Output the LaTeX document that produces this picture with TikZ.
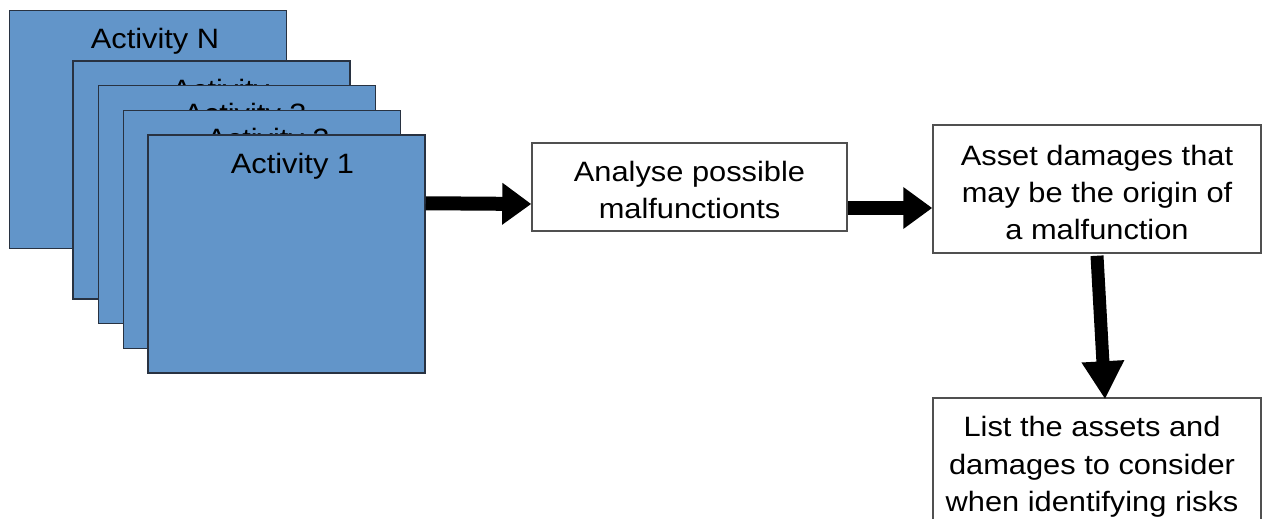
\documentclass[tikz,border=0pt]{standalone}
\usepackage{fontspec}
\setmainfont[FakeStretch=1.1]{Liberation Sans}
\usetikzlibrary{arrows.meta,calc}
\definecolor{actblue}{RGB}{98,149,201}
\definecolor{actedge}{RGB}{40,50,65}
\definecolor{boxedge}{RGB}{80,80,80}
\begin{document}
\begin{tikzpicture}[x=1pt,y=-1pt,
  actbox/.style={draw=actedge,fill=actblue,line width=1.5pt,
    minimum width=277pt,minimum height=238pt,inner sep=0pt},
  acttext/.style={font=\fontsize{28}{37}\selectfont,inner sep=0pt},
  stepbox/.style={draw=boxedge,fill=white,line width=1.5pt,inner sep=0pt},
  boxtext/.style={font=\fontsize{28}{37}\selectfont,align=center,inner sep=0pt},
  bigarrow/.style={line width=14pt,-{Triangle[length=29pt,width=40pt]}},
  downarrow/.style={line width=13pt,-{Triangle[length=38pt,width=40pt]}}
]
\path[use as bounding box] (0,0) rectangle (1264,519);
\clip (0,0) rectangle (1264,519);

% stack of activity sheets, back to front
\node[actbox] (aN) at (148,129.5) {};
\node[acttext] (tN) at ($(aN.north)+(7,32)$) {Activity N};
\node[actbox] (a4) at (211.5,180) {};
\node[acttext] (t4) at ($(a4.north)+(26,32)$) {Activity ...};
\node[actbox] (a3) at (237,204.5) {};
\node[acttext] (t3) at ($(a3.north)+(8,32)$) {Activity 3};
\node[actbox] (a2) at (262,229.5) {};
\node[acttext] (t2) at ($(a2.north)+(6,32)$) {Activity 2};
\node[actbox] (a1) at (286.5,254) {};
\node[acttext] (t1) at ($(a1.north)+(6,32)$) {Activity 1};

% process boxes
\node[stepbox,minimum width=315pt,minimum height=88pt] (an) at (689.5,187) {};
\node[boxtext] (antext) at ($(an.center)+(0,3)$) {Analyse possible\\malfunctionts};
\node[stepbox,minimum width=328pt,minimum height=128pt] (as) at (1097,189) {};
\node[boxtext] (astext) at ($(as.center)+(0,3)$)
  {Asset damages that\\may be the origin of\\a malfunction};
\node[stepbox,minimum width=328pt,minimum height=150pt] (ls) at (1097,473) {};
\node[boxtext,anchor=north,font=\fontsize{28}{37.5}\selectfont] (lstext) at (1092,416.5)
  {List the assets and\\damages to consider\\when identifying risks};

% connectors
\draw[bigarrow] ($(a1.north east)+(0,69)$) -- ($(an.west)+(0,17)$);
\draw[bigarrow] ($(an.east)+(0,21)$) -- ($(as.west)+(0,19)$);
\draw[downarrow] ($(as.south)+(0,2)$) -- ($(ls.north)+(8,2)$);
\end{tikzpicture}
\end{document}
